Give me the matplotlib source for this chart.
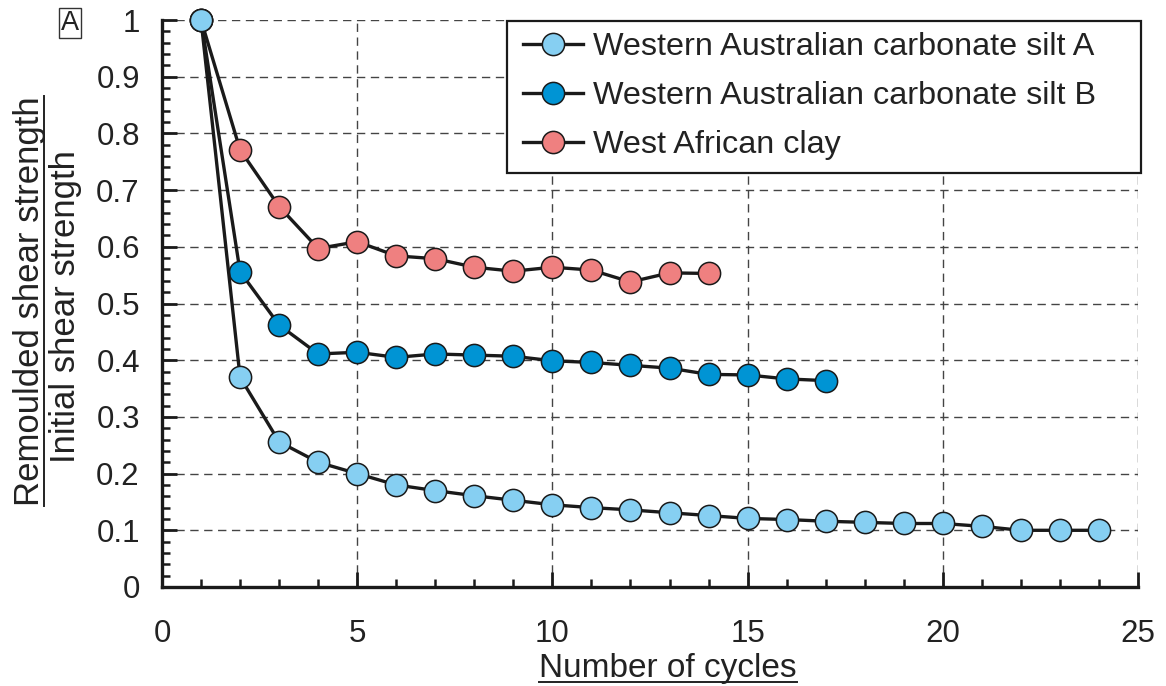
import matplotlib
matplotlib.use("Agg")
import matplotlib.pyplot as plt
from matplotlib.lines import Line2D
from matplotlib.patches import Rectangle
from matplotlib.transforms import IdentityTransform
from matplotlib.ticker import MultipleLocator

plt.rcParams['font.family'] = ['Liberation Sans', 'DejaVu Sans']

# ---- data ----
cycles_a = list(range(1, 25))
silt_a = [1.0, 0.37, 0.256, 0.22, 0.2, 0.18, 0.17, 0.161, 0.153, 0.145, 0.14, 0.136,
          0.131, 0.126, 0.121, 0.119, 0.116, 0.114, 0.112, 0.112, 0.107, 0.1, 0.1, 0.1]
cycles_b = list(range(1, 18))
silt_b = [1.0, 0.556, 0.462, 0.411, 0.414, 0.405, 0.411, 0.409, 0.407, 0.399, 0.396,
          0.391, 0.386, 0.375, 0.374, 0.367, 0.364]
cycles_c = list(range(1, 15))
clay_c = [1.0, 0.771, 0.671, 0.597, 0.609, 0.584, 0.579, 0.564, 0.557, 0.564, 0.559,
          0.538, 0.554, 0.553]

labels = ["Western Australian carbonate silt A",
          "Western Australian carbonate silt B",
          "West African clay"]
colors = ["#86CFF2", "#0094D4", "#EF8080"]

W, H = 1166, 686
fig = plt.figure(figsize=(W / 100, H / 100), dpi=100)
ax = fig.add_axes([162 / W, 1 - 587 / H, (1138 - 162) / W, (587 - 20) / H])

series = [(cycles_a, silt_a), (cycles_b, silt_b), (cycles_c, clay_c)]
handles = []
zs = [5, 4, 3]
for (x, y), lab, col, z in zip(series, labels, colors, zs):
    h, = ax.plot(x, y, '-o', color='#1a1a1a', lw=2.4, marker='o', ms=16,
                 mfc=col, mec='#1a1a1a', mew=1.1, label=lab, clip_on=False, zorder=z)
    handles.append(h)

ax.set_xlim(0, 25)
ax.set_ylim(0, 1)
ax.xaxis.set_major_locator(MultipleLocator(5))
ax.xaxis.set_minor_locator(MultipleLocator(1))
ax.yaxis.set_major_locator(MultipleLocator(0.1))
ax.yaxis.set_minor_locator(MultipleLocator(0.02))
ax.set_yticks([i / 10 for i in range(11)])
ax.set_yticklabels(['0'] + ['0.%d' % i for i in range(1, 10)] + ['1'])

for s in ['top', 'right']:
    ax.spines[s].set_visible(False)
for s in ['left', 'bottom']:
    ax.spines[s].set_linewidth(2.4)
    ax.spines[s].set_color('#1a1a1a')

ax.tick_params(which='major', direction='in', length=11, width=2, color='#1a1a1a',
               labelsize=22.5, labelcolor='#222222')
ax.tick_params(axis='x', which='major', pad=23)
ax.tick_params(axis='y', which='major', pad=16)
ax.tick_params(which='minor', direction='in', length=5.5, width=1.8, color='#1a1a1a')

ax.grid(True, which='major', color='#444444', lw=1.0, ls=(0, (6, 4)))
ax.set_axisbelow(True)

# legend frame (pixel box), drawn separately so it can be wider than the text
frame = Rectangle((507, H - 173), 1141 - 507, 173 - 21, transform=IdentityTransform(),
                  facecolor='white', edgecolor='#1a1a1a', lw=1.6, zorder=6)
fig.add_artist(frame)

leg = fig.legend(handles=handles, loc='center left',
                 bbox_to_anchor=(523 / W, 1 - 96 / H), bbox_transform=fig.transFigure,
                 borderaxespad=0, borderpad=0, fontsize=23.3, frameon=False,
                 handlelength=1.85, handletextpad=0.3, labelspacing=0.59,
                 markerscale=1.0)
leg.set_zorder(7)
for t in leg.get_texts():
    t.set_color('#222222')

# axis labels with underlines
t1 = fig.text(30 / W, 1 - 301 / H, "Remoulded shear strength", rotation=90,
              ha='center', va='center', fontsize=25, color='#222222')
t2 = fig.text(66 / W, 1 - 307 / H, "Initial shear strength", rotation=90,
              ha='center', va='center', fontsize=25, color='#222222')
tx = fig.text(668 / W, 1 - 677 / H, "Number of cycles", ha='center', va='baseline',
              fontsize=24, color='#222222')

# panel label
fig.text(70 / W, 1 - 23 / H, "A", ha='center', va='center', fontsize=19.5, color='#222222',
         bbox=dict(boxstyle='square,pad=0.08', fc='white', ec='#333333', lw=1.0))

fig.canvas.draw()
r = fig.canvas.get_renderer()
inv = fig.transFigure.inverted()
bb1 = t1.get_window_extent(r)
(x0, y0), (x1, y1) = inv.transform([[bb1.x0, bb1.y0], [bb1.x1, bb1.y1]])
ux = 44 / W
fig.add_artist(Line2D([ux, ux], [y0, y1], transform=fig.transFigure, color='#222222', lw=1.4))
bbx = tx.get_window_extent(r)
(x0, y0), (x1, y1) = inv.transform([[bbx.x0, bbx.y0], [bbx.x1, bbx.y1]])
uy = 1 - 682 / H
fig.add_artist(Line2D([x0, x1], [uy, uy], transform=fig.transFigure, color='#222222', lw=1.4))

fig.savefig("out.png", dpi=100)
